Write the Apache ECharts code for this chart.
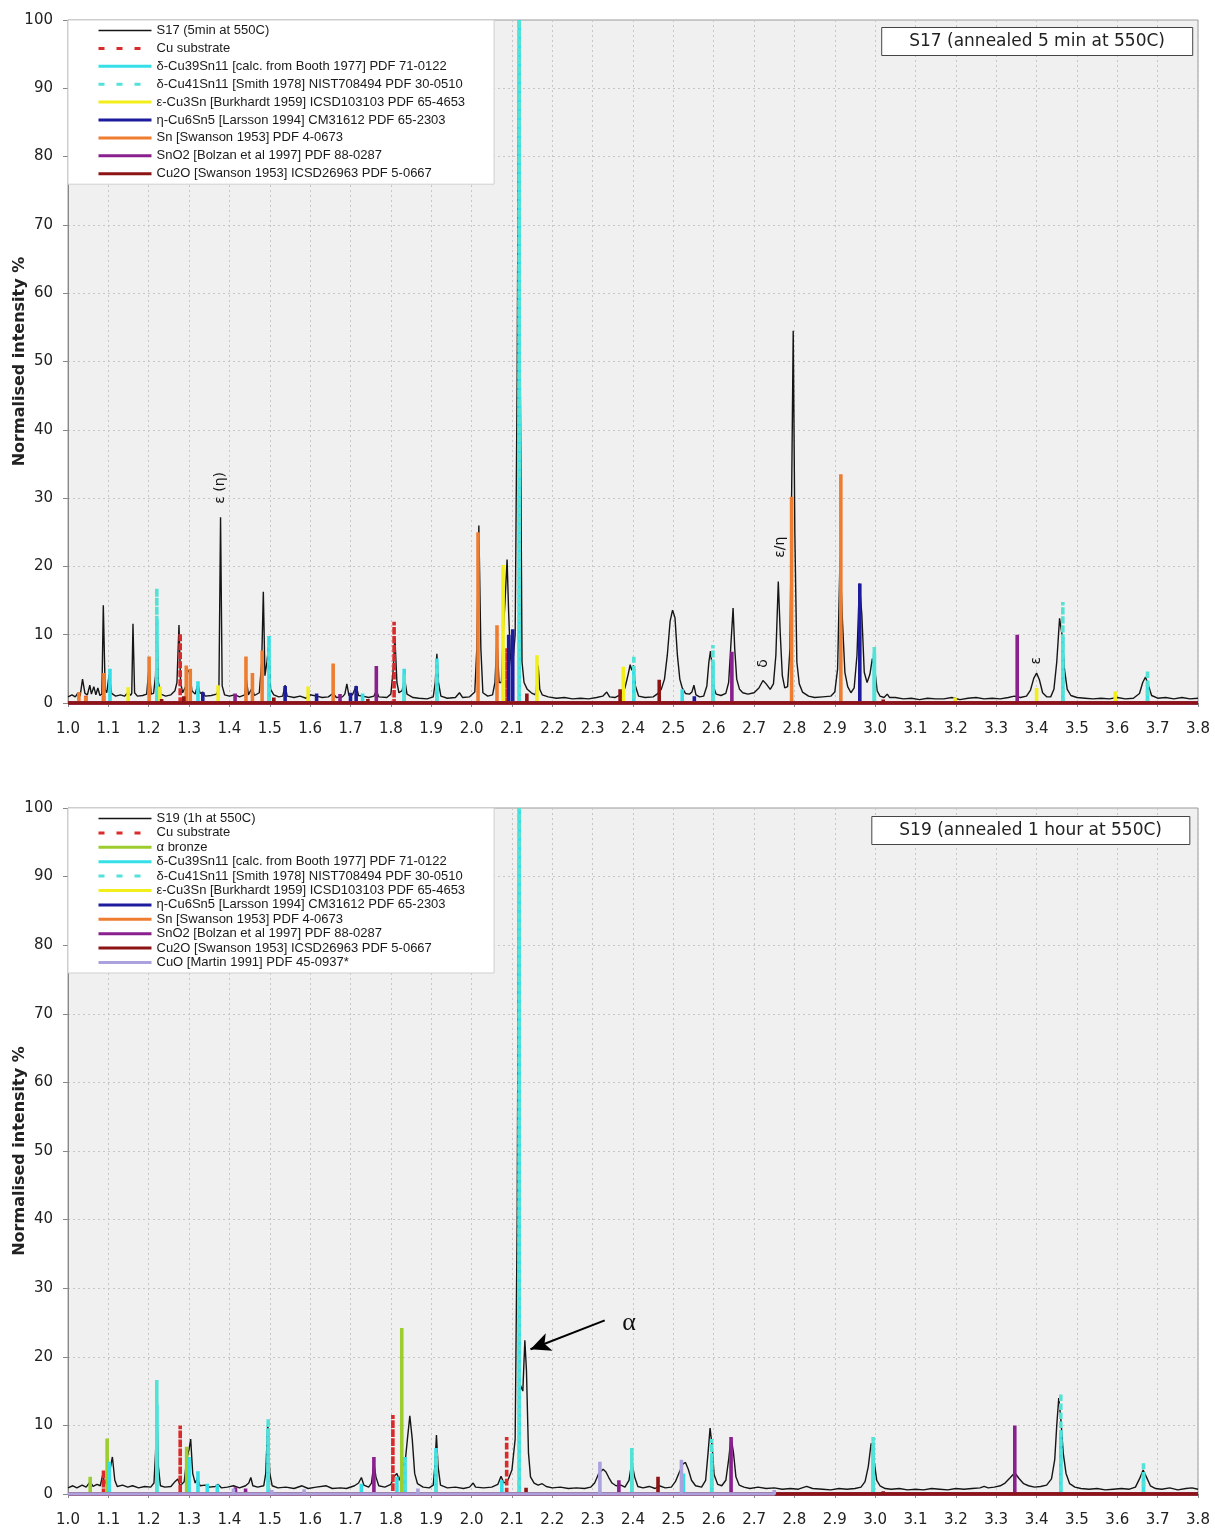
<!DOCTYPE html>
<html>
<head>
<meta charset="utf-8">
<script src="https://cdn.jsdelivr.net/npm/echarts@6/dist/echarts.min.js"></script>
<style>
  html, body { margin: 0; padding: 0; background: #fff; }
  .panel { width: 1215px; height: 765px; }
</style>
</head>
<body>
<div id="s17" class="panel"></div>
<div id="s19" class="panel"></div>
<script>
// d-spacing axis (Å) and normalised intensity axis (%)
const D_MIN = 1.0, D_MAX = 3.8, D_STEP = 0.1;
const I_MIN = 0, I_MAX = 100, I_STEP = 10;

// ---------- S17 : measured pattern [d, intensity] ----------
const s17Trace = [
  [1.000,0.9],[1.010,1.2],[1.018,0.9],[1.025,1.5],[1.030,1.0],[1.036,3.5],[1.042,1.4],[1.048,1.2],[1.054,2.6],[1.058,1.3],
  [1.064,2.4],[1.069,1.2],[1.074,2.2],[1.079,1.1],[1.084,1.3],[1.0875,14.3],[1.092,2.0],[1.096,1.5],[1.102,4.2],[1.108,1.4],
  [1.118,1.0],[1.130,1.2],[1.140,1.0],[1.150,1.6],[1.155,1.1],[1.158,1.4],[1.161,11.6],[1.165,1.5],[1.172,1.0],[1.185,1.1],
  [1.195,1.3],[1.201,5.5],[1.206,1.3],[1.212,1.4],[1.217,4.0],[1.220,12.3],[1.224,3.0],[1.230,1.3],[1.242,1.0],[1.255,1.2],
  [1.265,1.8],[1.270,3.0],[1.275,11.4],[1.279,3.0],[1.284,1.5],[1.292,2.5],[1.297,4.8],[1.302,4.5],[1.307,1.8],[1.315,1.3],
  [1.322,2.8],[1.327,1.4],[1.334,1.6],[1.340,1.0],[1.355,1.1],[1.368,1.3],[1.374,2.0],[1.378,27.2],[1.382,2.5],[1.388,1.2],
  [1.400,1.0],[1.414,1.2],[1.425,0.9],[1.438,1.2],[1.442,3.5],[1.447,1.2],[1.456,2.2],[1.462,1.1],[1.474,1.5],[1.480,6.0],
  [1.484,16.3],[1.488,4.0],[1.493,6.0],[1.497,8.5],[1.502,2.0],[1.510,1.2],[1.522,0.9],[1.532,1.0],[1.538,2.6],[1.543,1.0],
  [1.560,0.8],[1.575,1.0],[1.590,0.7],[1.600,1.2],[1.616,1.0],[1.630,0.8],[1.645,0.9],[1.657,1.4],[1.665,0.8],[1.680,0.9],
  [1.686,1.3],[1.691,2.8],[1.696,1.1],[1.705,1.2],[1.714,2.5],[1.720,1.1],[1.730,1.0],[1.745,0.8],[1.758,1.0],[1.764,1.8],
  [1.770,0.9],[1.790,0.8],[1.800,1.3],[1.806,5.0],[1.810,9.6],[1.815,3.0],[1.820,1.5],[1.828,1.8],[1.834,3.6],[1.840,1.3],
  [1.855,0.8],[1.870,0.7],[1.890,0.6],[1.905,0.9],[1.910,3.0],[1.914,7.2],[1.918,3.0],[1.924,1.0],[1.940,0.7],[1.960,0.8],
  [1.970,1.5],[1.978,0.8],[1.995,0.9],[2.008,1.6],[2.013,8.0],[2.018,26.0],[2.023,8.0],[2.028,1.5],[2.040,1.0],[2.052,1.2],
  [2.058,3.0],[2.063,9.5],[2.068,3.0],[2.074,3.0],[2.079,11.0],[2.083,15.0],[2.088,21.0],[2.092,13.0],[2.096,7.0],[2.100,5.0],
  [2.104,7.0],[2.108,10.0],[2.113,48.0],[2.117,100],[2.121,45.0],[2.125,6.0],[2.130,3.0],[2.138,2.0],[2.148,1.5],[2.158,1.2],
  [2.162,3.0],[2.165,5.5],[2.169,2.0],[2.175,1.2],[2.190,0.9],[2.210,0.7],[2.230,0.8],[2.250,0.6],[2.270,0.7],[2.290,0.6],
  [2.310,0.8],[2.325,1.0],[2.335,1.6],[2.342,0.9],[2.355,0.8],[2.368,1.2],[2.380,2.2],[2.388,4.2],[2.393,5.6],[2.397,4.8],
  [2.401,5.5],[2.406,2.5],[2.414,1.0],[2.430,0.8],[2.450,0.9],[2.462,1.4],[2.470,2.0],[2.478,3.5],[2.485,7.0],[2.492,12.0],
  [2.498,13.6],[2.504,12.5],[2.510,7.0],[2.516,3.5],[2.522,2.2],[2.530,1.4],[2.540,1.3],[2.546,1.6],[2.551,2.6],[2.556,1.2],
  [2.565,0.9],[2.575,1.0],[2.583,2.5],[2.588,6.0],[2.592,7.6],[2.596,5.5],[2.600,2.3],[2.606,1.3],[2.618,1.1],[2.630,1.4],
  [2.637,3.0],[2.642,8.0],[2.648,13.9],[2.652,8.0],[2.657,3.5],[2.664,2.0],[2.672,1.5],[2.685,1.3],[2.700,1.5],[2.712,2.2],
  [2.722,3.3],[2.730,2.8],[2.740,2.0],[2.748,2.8],[2.754,7.0],[2.760,17.8],[2.765,10.0],[2.770,4.0],[2.776,2.2],[2.783,2.4],
  [2.789,8.0],[2.793,30.0],[2.797,54.5],[2.801,25.0],[2.806,6.0],[2.812,2.8],[2.820,1.6],[2.835,1.0],[2.850,0.8],[2.870,0.9],
  [2.890,1.0],[2.900,1.6],[2.907,5.0],[2.913,21.4],[2.919,12.0],[2.925,4.5],[2.932,2.4],[2.940,1.5],[2.948,2.2],[2.955,7.0],
  [2.961,17.5],[2.967,13.0],[2.973,4.5],[2.980,3.0],[2.987,4.2],[2.993,6.5],[2.999,5.0],[3.005,1.8],[3.012,1.0],[3.022,0.8],
  [3.030,1.3],[3.036,0.8],[3.050,0.8],[3.070,0.6],[3.090,0.7],[3.110,0.5],[3.130,0.7],[3.150,0.6],[3.170,0.6],[3.190,0.8],
  [3.210,0.5],[3.230,0.7],[3.250,0.8],[3.270,0.6],[3.290,0.7],[3.310,0.6],[3.330,0.8],[3.345,1.0],[3.360,0.8],[3.375,1.0],
  [3.385,1.9],[3.393,3.6],[3.400,4.4],[3.407,3.4],[3.415,1.5],[3.425,0.9],[3.435,0.9],[3.443,2.0],[3.450,6.0],[3.457,12.4],
  [3.463,10.0],[3.469,5.0],[3.476,2.0],[3.485,1.1],[3.500,0.8],[3.520,0.7],[3.540,0.6],[3.560,0.7],[3.580,0.6],[3.600,0.8],
  [3.620,0.6],[3.640,0.7],[3.655,1.4],[3.663,3.0],[3.670,3.8],[3.677,2.6],[3.685,1.1],[3.700,0.7],[3.720,0.8],[3.740,0.6],
  [3.760,0.8],[3.780,0.6],[3.800,0.7]
];

// ---------- S17 : reference stick patterns [d, relative intensity] ----------
const s17Cu       = [[1.044,1.2],[1.088,3.2],[1.278,10.2],[1.808,11.9],[2.088,8.0]];
const s17Cu39Sn11 = [[1.104,5.0],[1.220,12.3],[1.322,3.2],[1.498,9.8],[1.730,1.4],[1.833,5.0],[1.914,6.5],[2.118,100],
                     [2.402,5.0],[2.522,2.0],[2.598,6.0],[2.998,7.2],[3.465,9.7],[3.675,3.2]];
const s17Cu41Sn11 = [[1.220,16.8],[1.498,8.5],[1.833,4.2],[1.914,6.0],[2.118,100],[2.402,7.0],[2.598,8.5],[2.998,8.2],
                     [3.465,14.8],[3.675,4.8]];
const s17Cu3Sn    = [[1.149,2.3],[1.228,2.4],[1.372,2.6],[1.595,2.4],[2.078,20.2],[2.162,7.0],[2.376,5.3],[3.198,0.8],
                     [3.400,2.2],[3.595,1.7]];
const s17Cu6Sn5   = [[1.334,1.6],[1.538,2.5],[1.616,1.4],[1.700,1.5],[1.714,2.5],[2.092,10.0],[2.102,10.8],[2.552,1.0],[2.962,17.5]];
const s17Sn       = [[1.027,1.6],[1.044,1.0],[1.089,4.4],[1.201,6.8],[1.293,5.5],[1.303,5.0],[1.441,6.8],[1.457,4.4],
                     [1.481,7.7],[1.657,5.8],[2.016,25.0],[2.063,11.4],[2.793,30.2],[2.915,33.5]];
const s17SnO2     = [[1.414,1.4],[1.674,1.3],[1.764,5.4],[2.645,7.5],[3.352,10.0]];
const s17Cu2O     = [[1.232,0.6],[1.287,1.0],[1.510,0.8],[1.743,0.6],[2.137,1.4],[2.368,2.0],[2.465,3.4],[3.020,0.5]];

// ---------- S19 : measured pattern [d, intensity] ----------
const s19Trace = [
  [1.000,0.9],[1.012,1.2],[1.022,0.9],[1.035,1.3],[1.045,1.0],[1.055,1.8],[1.062,1.1],[1.072,1.4],[1.080,1.2],[1.086,2.8],
  [1.091,1.4],[1.097,2.5],[1.104,3.5],[1.110,5.4],[1.116,2.0],[1.122,1.1],[1.135,1.3],[1.148,1.0],[1.160,1.2],[1.175,0.9],
  [1.190,1.1],[1.205,1.0],[1.213,1.6],[1.217,6.0],[1.220,13.2],[1.224,4.0],[1.229,1.2],[1.240,1.0],[1.255,1.1],[1.265,1.8],
  [1.272,2.2],[1.278,1.2],[1.288,1.8],[1.294,5.0],[1.300,6.5],[1.304,8.0],[1.309,3.0],[1.315,1.6],[1.321,2.3],[1.327,1.2],
  [1.340,1.3],[1.350,1.0],[1.365,1.1],[1.372,1.4],[1.380,0.9],[1.395,1.0],[1.410,1.2],[1.425,0.9],[1.440,1.2],[1.448,1.6],
  [1.453,2.4],[1.458,1.2],[1.470,1.0],[1.485,1.2],[1.490,3.0],[1.495,10.5],[1.500,3.0],[1.506,1.2],[1.520,0.9],[1.540,1.0],
  [1.560,0.8],[1.580,1.2],[1.595,0.8],[1.615,1.0],[1.640,1.2],[1.655,0.8],[1.675,0.9],[1.690,0.8],[1.710,1.2],[1.720,1.6],
  [1.727,2.4],[1.733,1.3],[1.745,1.0],[1.752,1.6],[1.758,4.5],[1.763,2.5],[1.770,1.2],[1.785,1.0],[1.800,1.4],[1.808,2.6],
  [1.815,3.0],[1.821,2.0],[1.828,3.5],[1.836,5.0],[1.841,8.0],[1.847,11.4],[1.853,8.0],[1.859,3.0],[1.866,1.5],[1.880,1.0],
  [1.895,0.9],[1.905,1.3],[1.909,4.0],[1.913,8.6],[1.917,4.0],[1.923,1.3],[1.940,0.9],[1.960,1.0],[1.980,0.8],[1.995,1.0],
  [2.004,1.6],[2.010,1.0],[2.030,0.9],[2.050,1.0],[2.065,1.4],[2.073,2.6],[2.080,1.6],[2.090,2.0],[2.100,3.5],[2.108,8.0],
  [2.113,40.0],[2.117,100],[2.120,16.0],[2.127,15.0],[2.132,22.4],[2.136,18.0],[2.141,6.0],[2.146,2.5],[2.155,1.6],
  [2.165,1.3],[2.175,1.5],[2.185,1.1],[2.200,0.9],[2.220,1.0],[2.240,0.8],[2.260,0.9],[2.280,0.8],[2.295,1.0],[2.305,1.6],
  [2.315,3.0],[2.326,3.6],[2.333,3.2],[2.340,2.4],[2.348,1.6],[2.358,1.2],[2.370,1.3],[2.380,1.0],[2.390,2.0],[2.397,4.6],
  [2.404,2.5],[2.412,1.1],[2.425,0.9],[2.440,1.1],[2.455,0.8],[2.465,1.2],[2.480,0.9],[2.495,1.0],[2.505,1.8],[2.515,3.2],
  [2.524,4.4],[2.530,4.6],[2.537,3.6],[2.545,2.0],[2.555,1.2],[2.570,1.0],[2.580,2.0],[2.586,6.0],[2.591,9.6],[2.596,7.0],
  [2.601,2.8],[2.610,1.4],[2.620,1.2],[2.630,2.0],[2.637,5.0],[2.643,8.3],[2.649,6.0],[2.655,2.5],[2.663,1.3],[2.675,1.0],
  [2.690,0.8],[2.710,1.0],[2.730,0.8],[2.750,0.9],[2.770,0.7],[2.790,0.8],[2.810,0.7],[2.830,1.1],[2.845,0.8],[2.870,0.7],
  [2.890,0.6],[2.910,0.8],[2.930,0.7],[2.950,0.8],[2.965,1.0],[2.975,1.8],[2.983,4.0],[2.990,7.4],[2.997,5.0],[3.004,2.0],
  [3.012,1.2],[3.025,0.8],[3.040,0.7],[3.060,0.8],[3.080,0.6],[3.100,0.7],[3.120,0.6],[3.140,0.8],[3.160,0.7],[3.180,0.6],
  [3.200,0.8],[3.220,0.7],[3.240,0.8],[3.260,0.9],[3.270,1.1],[3.280,0.9],[3.295,1.0],[3.310,1.2],[3.322,1.6],[3.335,2.4],
  [3.346,3.1],[3.356,2.3],[3.368,1.5],[3.380,1.2],[3.395,1.0],[3.410,1.1],[3.425,1.3],[3.437,2.2],[3.445,5.0],[3.450,10.0],
  [3.455,14.0],[3.460,11.0],[3.466,6.0],[3.473,3.0],[3.482,1.5],[3.495,1.0],[3.510,0.8],[3.530,0.7],[3.550,0.8],[3.570,0.6],
  [3.590,0.7],[3.610,0.8],[3.630,0.7],[3.645,1.0],[3.655,2.2],[3.664,3.5],[3.672,2.5],[3.682,1.2],[3.695,0.8],[3.710,0.7],
  [3.730,0.9],[3.750,0.6],[3.770,0.8],[3.785,0.9],[3.800,0.7]
];

// ---------- S19 : reference stick patterns [d, relative intensity] ----------
const s19Cu       = [[1.088,3.5],[1.278,10.0],[1.805,11.5],[2.087,8.3]];
const s19Alpha    = [[1.055,2.5],[1.097,8.1],[1.294,6.9],[1.827,24.2]];
const s19Cu39Sn11 = [[1.102,4.7],[1.220,13.0],[1.300,5.4],[1.322,3.3],[1.345,1.5],[1.370,1.4],[1.496,9.5],[1.727,1.5],
                     [1.815,2.5],[1.835,5.4],[1.912,6.7],[2.075,2.0],[2.118,100],[2.397,4.5],[2.525,3.0],[2.595,5.0],
                     [2.995,7.0],[3.460,9.3],[3.665,3.2]];
const s19Cu41Sn11 = [[1.220,16.6],[1.496,11.0],[1.835,5.0],[1.912,6.0],[2.118,100],[2.397,6.7],[2.595,8.0],[2.995,8.3],
                     [3.460,14.7],[3.665,4.7]];
const s19Cu3Sn    = [];
const s19Cu6Sn5   = [];
const s19Sn       = [];
const s19SnO2     = [[1.415,1.0],[1.440,0.8],[1.758,5.4],[2.365,2.0],[2.643,8.3],[3.346,10.0]];
const s19Cu2O     = [[2.135,0.9],[2.462,2.5],[3.020,0.4]];
const s19CuO      = [[1.410,0.8],[1.505,0.6],[1.585,0.7],[1.867,0.8],[2.318,4.7],[2.520,5.0],[2.750,0.6]];

// Phase names and drawing styles
const PHASE = {
  cu:      { name: 'Cu substrate', color: '#d92b2b', dash: [5, 4] },
  alpha:   { name: 'α bronze', color: '#9ccc2e' },
  d39:     { name: 'δ-Cu39Sn11 [calc. from Booth 1977] PDF 71-0122', color: '#35dfe8' },
  d41:     { name: 'δ-Cu41Sn11 [Smith 1978] NIST708494 PDF 30-0510', color: '#52e2d6', dash: [5, 4] },
  eps:     { name: 'ε-Cu3Sn [Burkhardt 1959] ICSD103103 PDF 65-4653', color: '#f2ee1a' },
  eta:     { name: 'η-Cu6Sn5 [Larsson 1994] CM31612 PDF 65-2303', color: '#1c1c9c' },
  sn:      { name: 'Sn [Swanson 1953] PDF 4-0673', color: '#ee7d30' },
  sno2:    { name: 'SnO2 [Bolzan et al 1997] PDF 88-0287', color: '#8a1f8e' },
  cu2o:    { name: 'Cu2O [Swanson 1953] ICSD26963 PDF 5-0667', color: '#8c1414' },
  cuo:     { name: 'CuO [Martin 1991] PDF 45-0937*', color: '#a9a2dc' }
};

// A stick pattern is one polyline running along the zero line with a spike at each reflection
function stickPath(sticks, runToEnd) {
  const pts = [[D_MIN, 0]];
  sticks.forEach(([d, h]) => { pts.push([d, 0], [d, h], [d, 0]); });
  const last = sticks.length ? sticks[sticks.length - 1][0] : D_MIN;
  pts.push([runToEnd ? D_MAX : last, 0]);
  return pts;
}

const AXIS_FONT = 'DejaVu Sans';

function buildOption(cfg) {
  const series = [{
    name: cfg.traceName, type: 'line', data: cfg.trace, symbol: 'none', z: 2,
    lineStyle: { color: '#151515', width: 1.4 }, itemStyle: { color: '#151515' },
    animation: false, silent: true,
    markLine: cfg.arrow ? {
      silent: true, symbol: ['none', 'arrow'], symbolSize: [14, 20], animation: false,
      label: { show: false },
      lineStyle: { color: '#000', width: 2, type: 'solid' },
      data: [[{ coord: cfg.arrow.from }, { coord: cfg.arrow.to }]]
    } : undefined
  }];
  const legendData = [{ name: cfg.traceName, lineStyle: { width: 1.6 } }];
  cfg.phases.forEach(p => {
    const st = PHASE[p.key];
    series.push({
      name: st.name, type: 'line', data: stickPath(p.sticks, p.runToEnd !== false),
      symbol: 'none', z: 3, animation: false, silent: true,
      lineStyle: { color: st.color, width: 3.6, type: st.dash || 'solid' },
      itemStyle: { color: st.color }
    });
    // legend keys: 3px strokes, with a longer dash for the dashed phases
    legendData.push({ name: st.name, lineStyle: st.dash ? { type: [6, 12], width: 3 } : { width: 3 } });
  });
  return {
    backgroundColor: '#fff',
    animation: false,
    title: {
      text: cfg.title, right: cfg.titleRight, top: cfg.titleTop,
      padding: [6, 28], backgroundColor: '#fff', borderColor: '#444', borderWidth: 1,
      textStyle: { fontFamily: AXIS_FONT, fontSize: 17, fontWeight: 'normal', color: '#222' }
    },
    legend: {
      orient: 'vertical', left: 68, top: cfg.gridTop,
      padding: [4, 29, 4, 29], itemWidth: 53, itemHeight: 13, itemGap: cfg.legendGap,
      backgroundColor: '#fff', borderColor: '#cfcfcf', borderWidth: 1,
      selectedMode: false,
      itemStyle: { opacity: 0 },
      textStyle: { fontFamily: 'Liberation Sans', fontSize: 13, color: '#1a1a1a', lineHeight: 13 },
      data: legendData
    },
    grid: {
      left: 68, right: 17, top: cfg.gridTop, height: cfg.gridHeight,
      containLabel: false, outerBoundsMode: 'none',
      show: true, backgroundColor: '#f0f0f0', borderColor: '#9a9a9a', borderWidth: 1
    },
    xAxis: {
      type: 'value', min: D_MIN, max: D_MAX, interval: D_STEP,
      axisLine: { lineStyle: { color: '#888' } },
      axisTick: { show: true, length: 4, lineStyle: { color: '#888' } },
      axisLabel: {
        fontFamily: AXIS_FONT, fontSize: 15, color: '#222', margin: 19,
        formatter: v => v.toFixed(1)
      },
      splitLine: { show: true, lineStyle: { color: '#c6c6c6', type: [2, 3] } }
    },
    yAxis: {
      type: 'value', min: I_MIN, max: I_MAX, interval: I_STEP,
      name: 'Normalised intensity %', nameLocation: 'middle', nameGap: 40, nameMoveOverlap: false,
      nameTextStyle: { fontFamily: 'DejaVu Sans', fontWeight: 'bold', fontSize: 16, color: '#222' },
      axisLine: { show: true, lineStyle: { color: '#888' } },
      axisTick: { show: true, length: 5, lineStyle: { color: '#888' } },
      axisLabel: { fontFamily: AXIS_FONT, fontSize: 15, color: '#222', margin: 15 },
      splitLine: { show: true, lineStyle: { color: '#c6c6c6', type: [2, 3] } }
    },
    series
  };
}

function addNotes(chart, notes) {
  const g = notes.map(n => {
    const [x, y] = chart.convertToPixel({ gridIndex: 0 }, n.at);
    return {
      type: 'text', x, y, rotation: n.rotate ? Math.PI / 2 : 0, z: 10, silent: true,
      style: {
        text: n.text, fill: '#111', font: n.font,
        align: 'center', verticalAlign: 'middle', textAlign: 'center', textVerticalAlign: 'middle'
      }
    };
  });
  chart.setOption({ graphic: g });
}

// ---- S17 panel ----
const c1 = echarts.init(document.getElementById('s17'), null, { renderer: 'canvas' });
c1.setOption(buildOption({
  traceName: 'S17 (5min at 550C)', trace: s17Trace,
  title: 'S17 (annealed 5 min at 550C)', titleRight: 22, titleTop: 27,
  gridTop: 20, gridHeight: 683, legendGap: 4.9,
  phases: [
    { key: 'cu', sticks: s17Cu }, { key: 'd39', sticks: s17Cu39Sn11 }, { key: 'd41', sticks: s17Cu41Sn11 },
    { key: 'eps', sticks: s17Cu3Sn }, { key: 'eta', sticks: s17Cu6Sn5 }, { key: 'sn', sticks: s17Sn },
    { key: 'sno2', sticks: s17SnO2 }, { key: 'cu2o', sticks: s17Cu2O }
  ]
}));
addNotes(c1, [
  { text: 'ε (η)', at: [1.378, 31.5], rotate: true, font: '14px "DejaVu Sans"' },
  { text: 'δ', at: [2.722, 5.8], rotate: true, font: '14px "DejaVu Sans"' },
  { text: 'ε/η', at: [2.764, 22.8], rotate: true, font: '14px "DejaVu Sans"' },
  { text: 'ε', at: [3.400, 6.2], rotate: true, font: '14px "DejaVu Sans"' }
]);

// ---- S19 panel ----
const c2 = echarts.init(document.getElementById('s19'), null, { renderer: 'canvas' });
c2.setOption(buildOption({
  traceName: 'S19 (1h at 550C)', trace: s19Trace,
  title: 'S19 (annealed 1 hour at 550C)', titleRight: 25, titleTop: 51,
  gridTop: 43, gridHeight: 686, legendGap: 1.4,
  arrow: { from: [2.33, 25.3], to: [2.146, 21.1] },
  phases: [
    { key: 'cu', sticks: s19Cu }, { key: 'alpha', sticks: s19Alpha }, { key: 'd39', sticks: s19Cu39Sn11 },
    { key: 'd41', sticks: s19Cu41Sn11 }, { key: 'eps', sticks: s19Cu3Sn }, { key: 'eta', sticks: s19Cu6Sn5 },
    { key: 'sn', sticks: s19Sn }, { key: 'sno2', sticks: s19SnO2 }, { key: 'cu2o', sticks: s19Cu2O },
    { key: 'cuo', sticks: s19CuO, runToEnd: false }
  ]
}));
addNotes(c2, [
  { text: 'α', at: [2.39, 24.9], rotate: false, font: '26px "Liberation Serif"' }
]);
</script>
</body>
</html>
